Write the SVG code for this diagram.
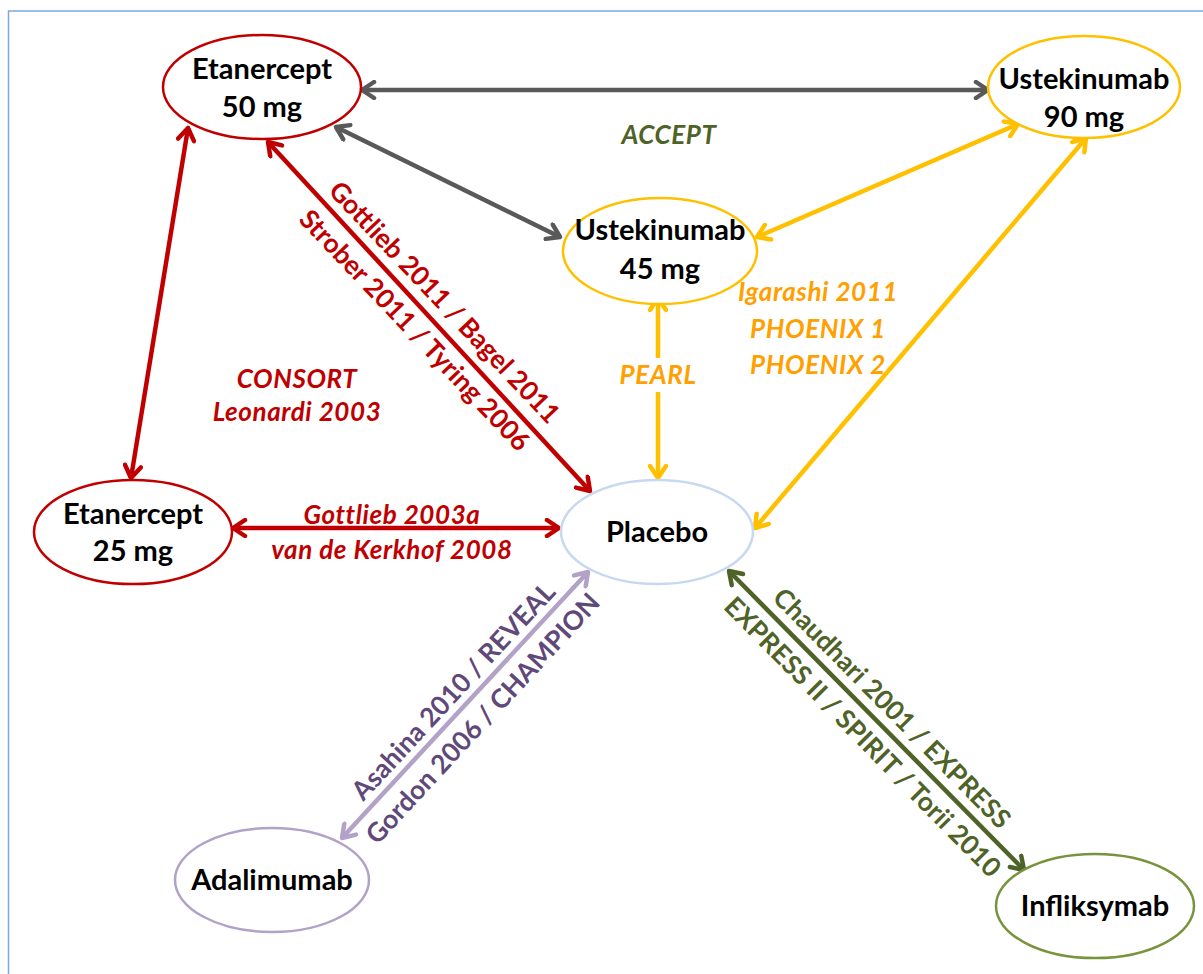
<svg xmlns="http://www.w3.org/2000/svg" width="1203" height="974" viewBox="0 0 1203 974">
<style>
.node{fill:#fff;stroke-width:2.5}
.nt{font-family:Lato,"Liberation Sans",sans-serif;font-weight:700;font-size:29px;fill:#000;text-anchor:middle}
.lbl{font-family:Lato,"Liberation Sans",sans-serif;font-weight:700;font-style:italic;font-size:26px;letter-spacing:0.6px;text-anchor:middle}
.rl{font-family:Lato,"Liberation Sans",sans-serif;font-weight:700;font-size:26.5px;text-anchor:middle}
.e{fill:none;stroke-width:4.5}
</style>
<defs>
<marker id="aGray" viewBox="0 0 20 20" markerWidth="20" markerHeight="20" refX="17" refY="10" orient="auto-start-reverse" markerUnits="userSpaceOnUse"><path d="M5,2 L17,10 L5,18" fill="none" stroke="#595959" stroke-width="4.5" stroke-linecap="round" stroke-linejoin="round"/></marker>
<marker id="aGold" viewBox="0 0 20 20" markerWidth="20" markerHeight="20" refX="17" refY="10" orient="auto-start-reverse" markerUnits="userSpaceOnUse"><path d="M5,2 L17,10 L5,18" fill="none" stroke="#FFC000" stroke-width="4.5" stroke-linecap="round" stroke-linejoin="round"/></marker>
<marker id="aRed" viewBox="0 0 20 20" markerWidth="20" markerHeight="20" refX="17" refY="10" orient="auto-start-reverse" markerUnits="userSpaceOnUse"><path d="M5,2 L17,10 L5,18" fill="none" stroke="#C00000" stroke-width="4.5" stroke-linecap="round" stroke-linejoin="round"/></marker>
<marker id="aPur" viewBox="0 0 20 20" markerWidth="20" markerHeight="20" refX="17" refY="10" orient="auto-start-reverse" markerUnits="userSpaceOnUse"><path d="M5,2 L17,10 L5,18" fill="none" stroke="#B3A2C7" stroke-width="4.5" stroke-linecap="round" stroke-linejoin="round"/></marker>
<marker id="aGrn" viewBox="0 0 20 20" markerWidth="20" markerHeight="20" refX="17" refY="10" orient="auto-start-reverse" markerUnits="userSpaceOnUse"><path d="M5,2 L17,10 L5,18" fill="none" stroke="#4F6228" stroke-width="4.5" stroke-linecap="round" stroke-linejoin="round"/></marker>
</defs>
<rect x="0" y="0" width="1203" height="974" fill="#fff"/>
<rect x="8.5" y="11" width="1210" height="980" fill="none" stroke="#7EA6E0" stroke-width="1.5"/>

<g id="connectors">
<line class="e" x1="362" y1="90" x2="988" y2="90" stroke="#595959" marker-start="url(#aGray)" marker-end="url(#aGray)"/>
<line class="e" x1="336" y1="127" x2="560" y2="237" stroke="#595959" marker-start="url(#aGray)" marker-end="url(#aGray)"/>
<line class="e" x1="757" y1="237" x2="1018" y2="124" stroke="#FFC000" marker-start="url(#aGold)" marker-end="url(#aGold)"/>
<line class="e" x1="658" y1="298" x2="658" y2="478" stroke="#FFC000" marker-start="url(#aGold)" marker-end="url(#aGold)"/>
<line class="e" x1="1086" y1="138" x2="755" y2="528" stroke="#FFC000" marker-start="url(#aGold)" marker-end="url(#aGold)"/>
<line class="e" x1="188" y1="128" x2="131" y2="478" stroke="#C00000" marker-start="url(#aRed)" marker-end="url(#aRed)"/>
<line class="e" x1="268" y1="142" x2="590" y2="491" stroke="#C00000" marker-start="url(#aRed)" marker-end="url(#aRed)"/>
<line class="e" x1="233" y1="528" x2="559" y2="528" stroke="#C00000" marker-start="url(#aRed)" marker-end="url(#aRed)"/>
<line class="e" x1="588" y1="572" x2="342" y2="838" stroke="#B3A2C7" marker-start="url(#aPur)" marker-end="url(#aPur)"/>
<line class="e" x1="729" y1="571" x2="1024" y2="870" stroke="#4F6228" marker-start="url(#aGrn)" marker-end="url(#aGrn)"/>
</g>

<g id="labels">
<text class="lbl" x="669" y="144" fill="#4F6228">ACCEPT</text>
<text class="lbl" x="818" y="301" fill="#FFA000">Igarashi 2011</text>
<text class="lbl" x="818" y="338" fill="#FFA000">PHOENIX 1</text>
<text class="lbl" x="818" y="374" fill="#FFA000">PHOENIX 2</text>
<rect x="614" y="358" width="88" height="34" fill="#fff"/>
<text class="lbl" x="658" y="384" fill="#FFA000">PEARL</text>
<text class="lbl" x="297" y="388" fill="#C00000">CONSORT</text>
<text class="lbl" x="297" y="421" fill="#C00000">Leonardi  2003</text>
<text class="lbl" x="392" y="524" fill="#C00000">Gottlieb 2003a</text>
<text class="lbl" x="392" y="559" fill="#C00000">van de Kerkhof 2008</text>
<g transform="translate(432,314) rotate(46.5)">
<text class="rl" x="0" y="-8" fill="#C00000">Gottlieb 2011 / Bagel 2011</text>
<text class="rl" x="0" y="33" fill="#C00000">Strober 2011 / Tyring 2006</text>
</g>
<g transform="translate(466,703) rotate(-47.2)">
<text class="rl" x="0" y="-8" fill="#5F497A">Asahina 2010 /  REVEAL</text>
<text class="rl" x="0" y="32" fill="#5F497A">Gordon 2006 / CHAMPION</text>
</g>
<g transform="translate(879,721) rotate(45.4)">
<text class="rl" x="0" y="-9" fill="#4F6228">Chaudhari 2001 /  EXPRESS</text>
<text class="rl" x="0" y="32" fill="#4F6228">EXPRESS II / SPIRIT / Torii 2010</text>
</g>
</g>

<g id="etanercept50">
<ellipse class="node" cx="262" cy="87" rx="99" ry="52" stroke="#C00000"/>
<text class="nt" x="262" y="79">Etanercept</text>
<text class="nt" x="262" y="117">50 mg</text>
</g>
<g id="ustekinumab90">
<ellipse class="node" cx="1084" cy="87" rx="96" ry="51" stroke="#FFC000"/>
<text class="nt" x="1084" y="89">Ustekinumab</text>
<text class="nt" x="1084" y="127">90 mg</text>
</g>
<g id="ustekinumab45">
<ellipse class="node" cx="660" cy="251" rx="97" ry="53" stroke="#FFC000"/>
<text class="nt" x="660" y="240">Ustekinumab</text>
<text class="nt" x="660" y="279">45 mg</text>
</g>
<g id="placebo">
<ellipse class="node" cx="657" cy="532" rx="96" ry="52" stroke="#C6D9F1"/>
<text class="nt" x="657" y="542">Placebo</text>
</g>
<g id="etanercept25">
<ellipse class="node" cx="133" cy="532" rx="99" ry="52" stroke="#C00000"/>
<text class="nt" x="133" y="524">Etanercept</text>
<text class="nt" x="133" y="561">25 mg</text>
</g>
<g id="adalimumab">
<ellipse class="node" cx="272" cy="880" rx="97" ry="52" stroke="#B3A2C7"/>
<text class="nt" x="272" y="890">Adalimumab</text>
</g>
<g id="infliksymab">
<ellipse class="node" cx="1095" cy="906" rx="99" ry="52" stroke="#77933C"/>
<text class="nt" x="1095" y="916">Infliksymab</text>
</g>
</svg>
